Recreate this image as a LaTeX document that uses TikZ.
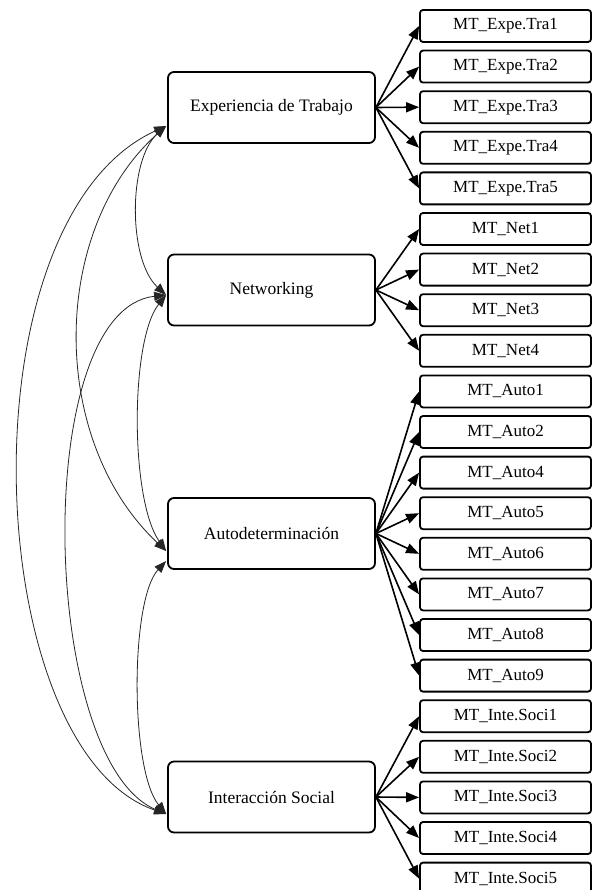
\documentclass[tikz,border=0pt]{standalone}
\usepackage{fontspec}
\setmainfont{Liberation Serif}
\usetikzlibrary{arrows.meta}
\begin{document}
\begin{tikzpicture}[x=1pt,y=-1pt,
  latent/.style={draw, line width=1.8pt, rounded corners=6pt, minimum width=207pt,
    minimum height=71pt, inner sep=0pt, font=\fontsize{17.5}{20}\selectfont},
  manifest/.style={draw, line width=1.8pt, rounded corners=3pt, minimum width=171pt,
    minimum height=32pt, inner sep=0pt, font=\fontsize{17}{19}\selectfont},
  load/.style={line width=1.6pt, -{Triangle[length=13pt,width=10pt]}},
  cov/.style={line width=0.8pt, draw=black!85,
    {Triangle[length=12pt,width=9pt]}-{Triangle[length=12pt,width=9pt]}},
]
\useasboundingbox (0,0) rectangle (592,890);

% latent factors
\node[latent] (exp)   at (271.5,107.5) {Experiencia de Trabajo};
\node[latent] (net)   at (271.5,290)   {Networking};
\node[latent] (auto)  at (271.5,533.5) {Autodeterminación};
\node[latent] (inter) at (271.5,797)   {Interacción Social};

% observed indicators
\foreach \lab [count=\i] in {MT\_Expe.Tra1,MT\_Expe.Tra2,MT\_Expe.Tra3,MT\_Expe.Tra4,MT\_Expe.Tra5,
  MT\_Net1,MT\_Net2,MT\_Net3,MT\_Net4,
  MT\_Auto1,MT\_Auto2,MT\_Auto4,MT\_Auto5,MT\_Auto6,MT\_Auto7,MT\_Auto8,MT\_Auto9,
  MT\_Inte.Soci1,MT\_Inte.Soci2,MT\_Inte.Soci3,MT\_Inte.Soci4,MT\_Inte.Soci5}
  \node[manifest] (m\i) at (505.5,{26+40.6*(\i-1)}) {\lab};

% factor loadings
\foreach \i in {1,...,5}   \draw[load] (exp.east)   -- (m\i.west);
\foreach \i in {6,...,9}   \draw[load] (net.east)   -- (m\i.west);
\foreach \i in {10,...,17} \draw[load] (auto.east)  -- (m\i.west);
\foreach \i in {18,...,22} \draw[load] (inter.east) -- (m\i.west);

% attachment points of the covariances
\coordinate (eL)  at ([xshift=-1pt,yshift=-18.5pt]exp.west);
\coordinate (nL)  at ([xshift=-1pt,yshift=-5pt]net.west);
\coordinate (aL1) at ([xshift=-1pt,yshift=-17.5pt]auto.west);
\coordinate (aL2) at ([xshift=-1pt,yshift=-27.5pt]auto.west);
\coordinate (iL)  at ([xshift=-1pt,yshift=-17pt]inter.west);

% factor covariances
\draw[cov] (eL)  .. controls (128,160) and (128,260) .. (nL);
\draw[cov] (eL)  .. controls (50,230)  and (48,440)  .. (aL1);
\draw[cov] (eL)  .. controls (-40,220) and (-20,750) .. (iL);
\draw[cov] (nL)  .. controls (130,340) and (130,500) .. (aL1);
\draw[cov] (nL)  .. controls (30,310)  and (40,760)  .. (iL);
\draw[cov] (aL2) .. controls (130,600) and (130,770) .. (iL);
\end{tikzpicture}
\end{document}
